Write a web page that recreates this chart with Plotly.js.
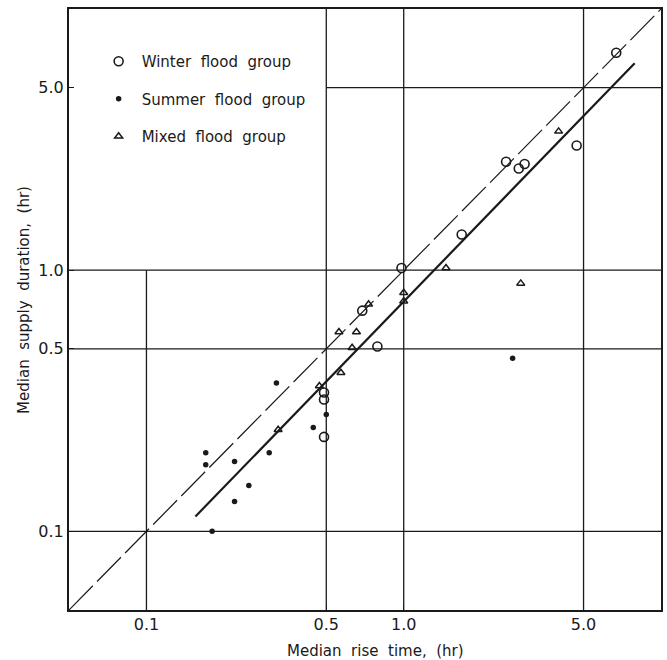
<!DOCTYPE html>
<html>
<head>
<meta charset="utf-8">
<script src="https://cdn.plot.ly/plotly-3.0.1.min.js"></script>
<style>html,body{margin:0;padding:0;background:#fff;}#chart{width:667px;height:660px;}</style>
</head>
<body>
<div id="chart"></div>
<script>
// ---- data (hours) ----
var winterX = [6.7, 2.5, 2.8, 2.95, 4.7, 1.68, 0.98, 0.69, 0.79, 0.49, 0.49, 0.49];
var winterY = [6.8, 2.6, 2.45, 2.55, 3.0, 1.37, 1.02, 0.70, 0.51, 0.34, 0.32, 0.23];

var summerX = [0.32, 0.445, 0.50, 0.17, 0.17, 0.22, 0.30, 0.25, 0.22, 0.18, 2.65];
var summerY = [0.37, 0.25, 0.28, 0.20, 0.18, 0.185, 0.20, 0.15, 0.13, 0.10, 0.46];

var mixedX = [1.0, 1.0, 0.73, 0.56, 0.655, 0.63, 0.57, 0.47, 0.325, 1.46, 2.85, 4.0];
var mixedY = [0.82, 0.76, 0.74, 0.58, 0.58, 0.505, 0.405, 0.36, 0.245, 1.02, 0.89, 3.4];

var equalX = [0.05, 10];
var equalY = [0.05, 10];
var fitX = [0.155, 7.9];
var fitY = [0.114, 6.2];

var tickVals = [0.1, 0.5, 1, 5];
var tickText = ['0.1', '0.5', '1.0', '5.0'];
var axisMin = 0.05, axisMax = 10;
// region around the legend where grid lines are left out
var legendClearX = 0.5, legendClearY = 1.0;

var FONT = '"DejaVu Sans", "Liberation Sans", sans-serif';
var ink = '#1a1a1a';

var traces = [];

// grid lines (built from the tick values)
tickVals.forEach(function (v) {
  var y0 = axisMin, y1 = axisMax;
  if (v < legendClearX) y1 = legendClearY;
  traces.push({x: [v, v], y: [y0, y1], mode: 'lines', line: {color: ink, width: 1.3},
    showlegend: false, hoverinfo: 'skip'});
  var x0 = axisMin, x1 = axisMax;
  if (v > legendClearY) x0 = legendClearX;
  traces.push({x: [x0, x1], y: [v, v], mode: 'lines', line: {color: ink, width: 1.3},
    showlegend: false, hoverinfo: 'skip'});
});

traces.push({x: equalX, y: equalY, mode: 'lines', line: {color: ink, width: 1.2, dash: '34px,6px'},
  showlegend: false, hoverinfo: 'skip'});
traces.push({x: fitX, y: fitY, mode: 'lines', line: {color: ink, width: 2.2},
  showlegend: false, hoverinfo: 'skip'});

traces.push({name: 'Winter\u00a0 flood\u00a0 group', legendgroup: 'w', x: winterX, y: winterY, mode: 'markers',
  marker: {symbol: 'circle-open', size: 9, color: ink, line: {width: 1.6, color: ink}}});
traces.push({name: 'Summer\u00a0 flood\u00a0 group', legendgroup: 's', x: summerX, y: summerY, mode: 'markers',
  marker: {symbol: 'circle', size: 5.5, color: ink}});
traces.push({name: 'Mixed\u00a0 flood\u00a0 group', legendgroup: 'm', x: mixedX, y: mixedY, mode: 'markers',
  marker: {symbol: 'triangle-up-open', size: 7, color: ink, line: {width: 1.5, color: ink}}});

var axisCommon = {
  type: 'log',
  range: [Math.log10(axisMin), Math.log10(axisMax)],
  tickvals: tickVals, ticktext: tickText,
  showgrid: false, zeroline: false,
  showline: true, mirror: true, linecolor: ink, linewidth: 2,
  ticks: 'inside', ticklen: 5, tickcolor: ink, tickwidth: 1.2,
  tickfont: {family: FONT, size: 16, color: ink},
  fixedrange: true
};

var layout = {
  width: 667, height: 660,
  margin: {l: 69, r: 6, t: 9, b: 50},
  paper_bgcolor: '#fff', plot_bgcolor: '#fff',
  font: {family: FONT, color: ink},
  xaxis: Object.assign({}, axisCommon, {ticklabelstandoff: -1}),
  yaxis: Object.assign({}, axisCommon, {ticklabelstandoff: 0}),
  showlegend: true,
  legend: {x: 0.045, y: 0.94, xanchor: 'left', yanchor: 'top', bgcolor: 'rgba(0,0,0,0)',
    borderwidth: 0, itemwidth: 36, font: {family: FONT, size: 15, color: ink},
    traceorder: 'grouped', tracegroupgap: 15},
  annotations: [
    {text: 'Median\u00a0 rise\u00a0 time,\u00a0 (hr)', xref: 'paper', yref: 'paper',
      x: 0.517, y: -0.068, xanchor: 'center', yanchor: 'middle', showarrow: false,
      font: {family: FONT, size: 15, color: ink}},
    {text: 'Median\u00a0 supply\u00a0 duration,\u00a0 (hr)', xref: 'paper', yref: 'paper',
      x: -0.076, y: 0.516, xanchor: 'center', yanchor: 'middle', textangle: -90, showarrow: false,
      font: {family: FONT, size: 15, color: ink}}
  ]
};

Plotly.newPlot('chart', traces, layout, {staticPlot: true, displayModeBar: false});
</script>
</body>
</html>
